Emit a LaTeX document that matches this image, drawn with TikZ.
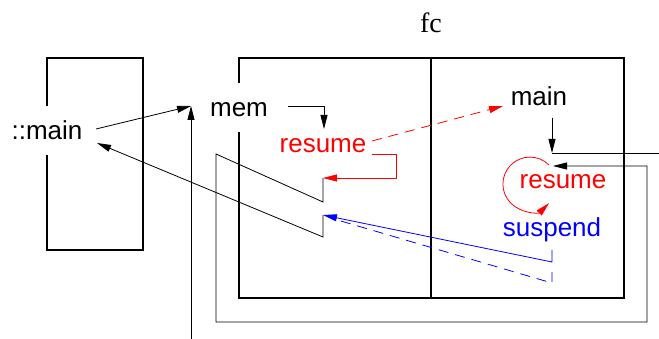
\documentclass[tikz,border=0pt]{standalone}
\usepackage{fontspec}
\setmainfont{Liberation Serif}
\setsansfont{Liberation Sans}
\usetikzlibrary{arrows.meta}

\begin{document}
\begin{tikzpicture}[x=1pt,y=-1pt,
    lbl/.style={font=\sffamily\fontsize{26}{30}\selectfont, inner sep=0pt, anchor=base},
    mask/.style={fill=white, text height=19pt, text depth=0pt, inner xsep=3pt, inner ysep=15pt},
    frame/.style={line width=1.4pt},
    wire/.style={line width=0.8pt},
    link/.style={wire, -{Triangle[length=14pt,width=7pt]}},
    dashy/.style={dash pattern=on 10pt off 7pt}
  ]
    \useasboundingbox (0,0) rectangle (659,339);

    % stacks
    \draw[frame] (47,58) rectangle (143,250);
    \draw[frame] (239,58) rectangle (624,298);
    \draw[frame] (431,58) -- (431,298);

    % labels
    \node[lbl, font=\rmfamily\fontsize{28}{32}\selectfont] (fc) at (431,33) {fc};
    \node[lbl, mask] (smain) at (47,140) {::main};
    \node[lbl, mask] (mem) at (239,117) {mem};
    \node[lbl, red] (resumeA) at (323,153) {resume};
    \node[lbl] (fmain) at (539,106) {main};
    \node[lbl, red] (resumeB) at (563,189) {resume};
    \node[lbl, blue] (suspend) at (552,237) {suspend};

    % free ends
    \coordinate (out) at (96,129);
    \coordinate (in) at (97,143);
    \coordinate (join) at (191,106);
    \coordinate (base) at (191,339);
    \coordinate (memout) at (288,106);
    \coordinate (memin) at (324,129);
    \coordinate (resout) at (372,154);
    \coordinate (restop) at (323,178);
    \coordinate (resbot) at (323,215);
    \coordinate (redout) at (372,141);
    \coordinate (redin) at (503,106);
    \coordinate (mainout) at (552,118);
    \coordinate (mainin) at (552,153);
    \coordinate (edge) at (659,153);
    \coordinate (loopin) at (553,166);
    \coordinate (loopA) at (549,165);
    \coordinate (susp) at (552,250);
    \coordinate (suspd) at (552,272);

    \draw[link] (out) -- (join);
    \draw[link] (base) -- (join);
    \draw[link] (memout) -| (memin);
    \draw[link, red, dashy] (redout) -- (redin);
    \draw[link, red] (resout) -| (396,178) -- (restop);
    \draw[link] (restop) -- (323,202) -- (216,154) -- (216,322) -- (647,322) -- (647,166) -- (loopin);
    \draw[link] (resbot) -- (323,237) -- (in);
    \draw[link] (mainout) -- (mainin);
    \draw[wire] (mainin) -- (edge);
    \draw[link, red] (loopA) arc[start angle=-45, end angle=-315, radius=27];
    \draw[link, blue] (susp) -- (552,262) -- (resbot);
    \draw[wire, blue, dashy] (suspd) -- (552,283) -- (334,219);
  \end{tikzpicture}
\end{document}
